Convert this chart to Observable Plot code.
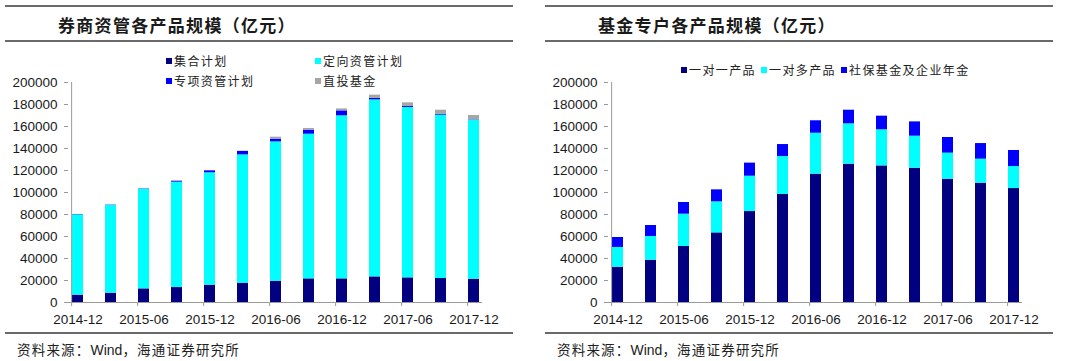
<!DOCTYPE html>
<html>
<head>
<meta charset="utf-8">
<script src="https://cdn.jsdelivr.net/npm/d3@7"></script>
<script src="https://cdn.jsdelivr.net/npm/@observablehq/plot@0.6"></script>
<style>
  html, body { margin: 0; padding: 0; background: #fff; }
  #page { position: relative; width: 1080px; height: 361px; overflow: hidden; background: #fff; }
  .chart { position: absolute; top: 0; }
  .rule { position: absolute; height: 2px; background: #6a6a6a; }
  .title { position: absolute; font-family: "Noto Sans CJK SC", sans-serif; font-weight: bold; font-size: 17px; letter-spacing: 1.3px; line-height: 20px; color: #1a1a1a; white-space: nowrap; }
  .source { position: absolute; font-family: "Noto Sans CJK SC", "Liberation Sans", sans-serif; font-size: 13.5px; letter-spacing: 1.2px; line-height: 18px; color: #222; white-space: nowrap; }
  .source .latin { font-family: "Liberation Sans", Arial, sans-serif; font-size: 14px; letter-spacing: 0; }
  .legend-item { position: absolute; font-family: "Noto Sans CJK SC", sans-serif; font-size: 12px; letter-spacing: 1.4px; line-height: 16px; color: #222; white-space: nowrap; display: flex; align-items: center; }
  .legend-item .sw { display: inline-block; width: 6px; height: 6px; margin-right: 2px; }
</style>
</head>
<body>
<div id="page"></div>
<script>
// ---------- data ----------
const dates = ["2014-12","2015-03","2015-06","2015-09","2015-12","2016-03","2016-06","2016-09","2016-12","2017-03","2017-06","2017-09","2017-12"];
const xLabels = ["2014-12","2015-06","2015-12","2016-06","2016-12","2017-06","2017-12"];
const yTicks = [0, 20000, 40000, 60000, 80000, 100000, 120000, 140000, 160000, 180000, 200000];

// 券商资管各产品规模（亿元）
const brokerTitle = "券商资管各产品规模（亿元）";
const brokerSeries = ["集合计划", "定向资管计划", "专项资管计划", "直投基金"];
const brokerColors = ["#000080", "#00FFFF", "#0000FF", "#A6A6A6"];
const brokerJihe      = [6700, 8500, 12400, 13600, 15800, 17600, 19400, 21500, 21500, 23300, 22400, 21800, 21200];
const brokerDingxiang = [73000, 79700, 90600, 95800, 102100, 116600, 126600, 131500, 148200, 160900, 154900, 148500, 144600];
const brokerZhuanxiang= [300, 300, 300, 900, 1800, 3100, 2500, 3700, 4500, 1300, 900, 900, 300];
const brokerZhitou    = [0, 0, 0, 0, 0, 300, 1800, 1500, 1800, 3000, 3300, 3600, 3900];

// 基金专户各产品规模（亿元）
const fundTitle = "基金专户各产品规模（亿元）";
const fundSeries = ["一对一产品", "一对多产品", "社保基金及企业年金"];
const fundColors = ["#000080", "#00FFFF", "#0000FF"];
const fundYiduiyi = [32100, 38500, 50900, 63300, 82700, 98200, 116700, 125800, 124200, 122100, 112100, 108500, 103600];
const fundYiduiduo = [17900, 21500, 29400, 28200, 32100, 34500, 37200, 36600, 32800, 29100, 23700, 21800, 20000];
const fundShebao = [9100, 10000, 10600, 10900, 11900, 10900, 11300, 12400, 12400, 13000, 14200, 14200, 14600];

const sourceText = ["资料来源：", "Wind", "，海通证券研究所"];

// ---------- chart ----------
const W = 540, H = 340, ML = 68, MR = 58, MT = 82, MB = 38, PAD = 0.68;
const bw = (W - ML - MR) / (dates.length - PAD) * (1 - PAD);

function makeChart(series, values, colors) {
  const rows = series.flatMap((s, k) => dates.map((d, i) => ({date: d, series: s, value: values[k][i]})));
  return Plot.plot({
    width: W, height: H,
    marginTop: MT, marginBottom: MB, marginLeft: ML, marginRight: MR,
    style: {fontFamily: "'Liberation Sans', Arial, sans-serif", fontSize: "13.5px", color: "#1a1a1a", background: "transparent"},
    x: {type: "band", domain: dates, paddingInner: PAD, paddingOuter: 0, label: null},
    y: {domain: [0, 200000], label: null},
    color: {domain: series, range: colors},
    marks: [
      Plot.barY(rows, {x: "date", y: "value", fill: "series", order: series}),
      Plot.ruleY([0], {stroke: "#9a9a9a"}),
      Plot.ruleX([dates[0]], {y1: 0, y2: 200000, dx: -bw / 2 - 1, stroke: "#9a9a9a"}),
      Plot.ruleX(xLabels, {x: d => d, y1: 0, y2: 0, insetBottom: -4, dx: -bw / 2 - 1, stroke: "#9a9a9a"}),
      Plot.axisY({ticks: yTicks, tickSize: 4, tickPadding: 7, tickFormat: d => String(d), stroke: "#9a9a9a", label: null}),
      Plot.axisX({ticks: xLabels, tickSize: 0, tickPadding: 12, label: null})
    ]
  });
}

const page = document.getElementById("page");
function el(cls, css, html) {
  const d = document.createElement("div");
  d.className = cls;
  Object.assign(d.style, css);
  if (html != null) d.innerHTML = html;
  page.appendChild(d);
  return d;
}

function panel(offset, title, series, values, colors, legendPos) {
  const svg = makeChart(series, values, colors);
  const wrap = el("chart", {left: offset + "px"});
  wrap.appendChild(svg);
  el("rule", {left: (offset + 5) + "px", width: "508px", top: "5px"});
  el("rule", {left: (offset + 5) + "px", width: "508px", top: "40px"});
  el("rule", {left: (offset + 5) + "px", width: "508px", top: "332px"});
  el("title", {left: (offset + 58) + "px", top: "15px"}, title);
  el("source", {left: (offset + 17) + "px", top: "340px"},
    sourceText[0] + '<span class="latin">' + sourceText[1] + '</span>' + sourceText[2]);
  series.forEach((s, i) => {
    const [lx, ly] = legendPos[i];
    el("legend-item", {left: (offset + lx) + "px", top: (ly - 8) + "px"},
      '<span class="sw" style="background:' + colors[i] + '"></span>' + s);
  });
}

panel(0, brokerTitle, brokerSeries, [brokerJihe, brokerDingxiang, brokerZhuanxiang, brokerZhitou], brokerColors,
  [[166, 61], [315, 61], [166, 81], [315, 81]]);
panel(540, fundTitle, fundSeries, [fundYiduiyi, fundYiduiduo, fundShebao], fundColors,
  [[141, 70], [221, 70], [301, 70]]);
</script>
</body>
</html>
